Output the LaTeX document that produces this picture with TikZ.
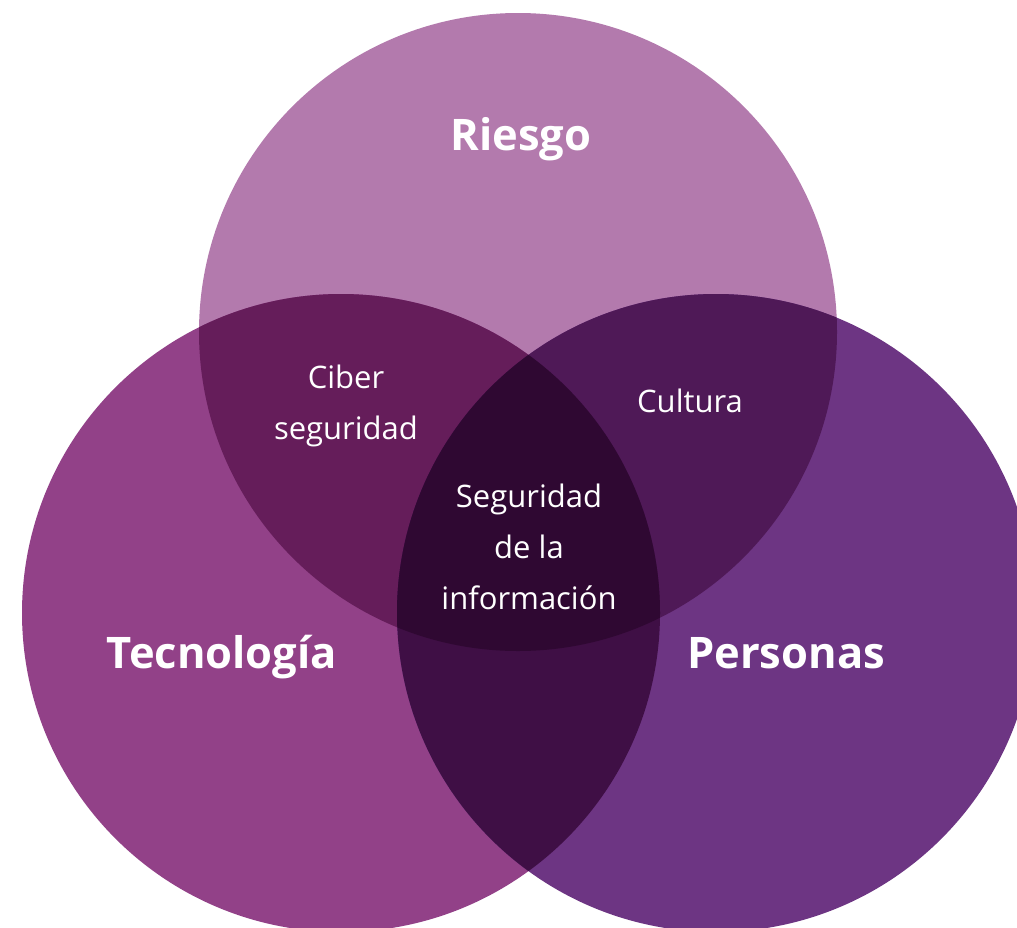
\documentclass[tikz,border=0pt]{standalone}
\usepackage{fontspec}
\setmainfont{Open Sans}
\usepackage{tikz}

\definecolor{riesgoC}{HTML}{B37AAD}
\definecolor{tecnoC}{HTML}{924188}
\definecolor{personasC}{HTML}{6D3583}
\definecolor{ciberC}{HTML}{651D5A}
\definecolor{culturaC}{HTML}{4F1957}
\definecolor{lowerC}{HTML}{3F0F45}
\definecolor{centerC}{HTML}{2F0832}

\tikzset{
  setlabel/.style={text=white, anchor=base, inner sep=0pt, font=\fontsize{43.5}{52}\selectfont\bfseries},
  interlabel/.style={text=white, align=center, font=\fontsize{31}{51}\selectfont}
}

\begin{document}
\begin{tikzpicture}[x=1pt, y=-1pt]
      \useasboundingbox (0,0) rectangle (1017,927);
      % Define circle centres and radius
      \coordinate (riesgo_c) at (518, 332);
      \coordinate (tecno_c) at (341, 613);
      \coordinate (personas_c) at (716, 613);
      \def\rad{319}

      % Draw the three sets
      \fill[riesgoC] (riesgo_c) circle (\rad);
      \fill[tecnoC] (tecno_c) circle (\rad);
      \fill[personasC] (personas_c) circle (\rad);

      % Draw the pairwise overlaps
      \begin{scope}
        \clip (riesgo_c) circle (\rad);
        \fill[ciberC] (tecno_c) circle (\rad);
        \fill[culturaC] (personas_c) circle (\rad);
      \end{scope}
      \begin{scope}
        \clip (tecno_c) circle (\rad);
        \fill[lowerC] (personas_c) circle (\rad);
      \end{scope}

      % Draw the centre where all three meet
      \begin{scope}
        \clip (riesgo_c) circle (\rad);
        \clip (tecno_c) circle (\rad);
        \fill[centerC] (personas_c) circle (\rad);
      \end{scope}

      % Labels of the sets
      \node[setlabel] (riesgo) at (521, 150) {Riesgo};
      \node[setlabel] (tecno) at (222, 668) {Tecnología};
      \node[setlabel] (personas) at (786, 668) {Personas};

      % Labels of the overlaps
      \node[interlabel] (ciber) at (346, 406) {Ciber\\seguridad};
      \node[interlabel] (cultura) at (690, 401) {Cultura};
      \node[interlabel] (seginfo) at (529, 547) {Seguridad\\de la\\información};
    \end{tikzpicture}
\end{document}
